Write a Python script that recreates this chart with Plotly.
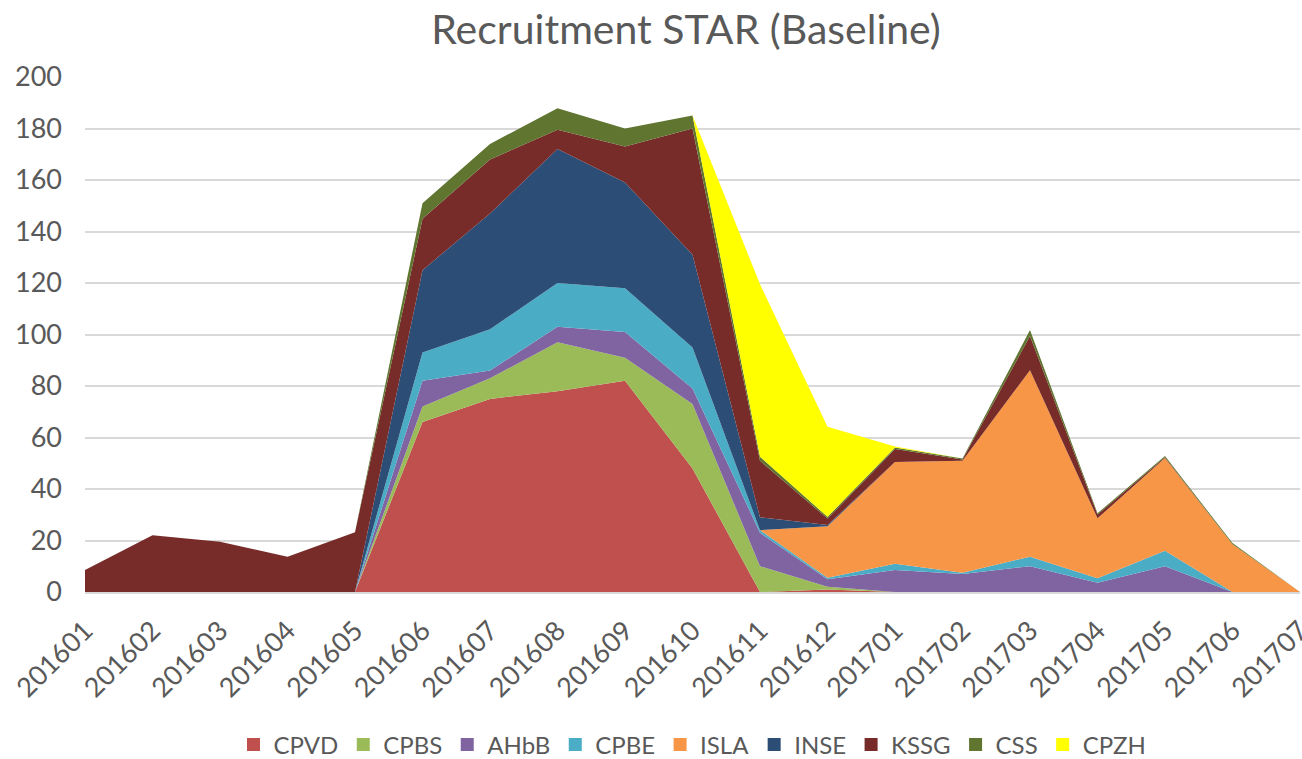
import plotly.graph_objects as go

months = ["201601","201602","201603","201604","201605","201606","201607","201608","201609","201610",
          "201611","201612","201701","201702","201703","201704","201705","201706","201707"]

CPVD = [0,0,0,0,0,66,75,78,82,48,0,1,0,0,0,0,0,0,0]
CPBS = [0,0,0,0,0,6,8,19,9,25,10,1,0,0,0,0,0,0,0]
AHbB = [0,0,0,0,0,10,3,6,10,6,13,3,8.5,7,10,3.6,10,0,0]
CPBE = [0,0,0,0,0,11,16,17,17,16,1,0.5,2.5,0.5,3.7,1.7,6,0,0]
ISLA = [0,0,0,0,0,0,0,0,0,0,0,20,39.5,43.5,72.4,23.3,36,18.5,0]
INSE = [0,0,0,0,0,32,45,52,41,36,5,0.5,0,0,0,0,0,0,0]
KSSG = [8.5,22,19.5,13.7,23.2,20,21,7.5,14,49,22,2.5,5,0.5,13.3,1.5,0.3,0,0]
CSS  = [0,0,0,0,0,6,6,8.4,7,5,1.5,0.7,0.6,0.3,2.3,0.5,0.5,0.5,0]
CPZH = [0,0,0,0,0,0,0,0,0,0,67,35,0.4,0,0,0,0,0,0]

series = [
    ("CPVD", CPVD, "#C0504D"),
    ("CPBS", CPBS, "#9BBB59"),
    ("AHbB", AHbB, "#8064A2"),
    ("CPBE", CPBE, "#4BACC6"),
    ("ISLA", ISLA, "#F79646"),
    ("INSE", INSE, "#2C4D75"),
    ("KSSG", KSSG, "#772C2A"),
    ("CSS",  CSS,  "#5F7530"),
    ("CPZH", CPZH, "#FFFF00"),
]

FONT = "Lato"
GREY = "#595959"

fig = go.Figure()
for name, vals, col in series:
    fig.add_trace(go.Scatter(
        x=months, y=vals, name=name, mode="lines",
        stackgroup="one", line=dict(width=0, color=col),
        fillcolor=col, showlegend=False, legendgroup=name,
    ))
# legend entries with square swatches
for name, vals, col in series:
    fig.add_trace(go.Scatter(
        x=[None], y=[None], name=name, mode="markers",
        marker=dict(symbol="square", size=13, color=col),
        legendgroup=name, showlegend=True,
    ))

fig.update_layout(
    width=1302, height=759,
    paper_bgcolor="white", plot_bgcolor="white",
    margin=dict(l=85, r=2, t=77, b=167, autoexpand=False),
    font=dict(family=FONT, color=GREY),
    title=dict(text="Recruitment STAR (Baseline)", x=686/1302, xanchor="center", xref="container",
               y=1 - 30/759, yanchor="middle", yref="container",
               font=dict(size=41, family=FONT, color=GREY)),
    legend=dict(orientation="h", x=0.5, xanchor="center", y=14/759, yanchor="middle",
                yref="container", font=dict(size=24, family=FONT, color=GREY),
                traceorder="normal", itemwidth=30),
    showlegend=True,
)
fig.update_xaxes(type="category", range=[0, len(months)-1], tickangle=-45,
                 tickfont=dict(size=27, family=FONT, color=GREY),
                 showgrid=False, showline=True, linecolor="#D9D9D9", linewidth=2,
                 ticks="", fixedrange=True, ticklabelstandoff=10, automargin=False)
fig.update_yaxes(range=[0, 200], dtick=20, tickfont=dict(size=27, family=FONT, color=GREY),
                 showgrid=True, gridcolor="#D9D9D9", gridwidth=2,
                 zeroline=True, zerolinecolor="#D9D9D9", zerolinewidth=2,
                 showline=False, ticks="", ticklabelstandoff=22, automargin=False)

fig.write_html("out.html", config={"displayModeBar": False},
               post_script="document.body.style.margin='0';document.body.style.overflow='hidden';")
